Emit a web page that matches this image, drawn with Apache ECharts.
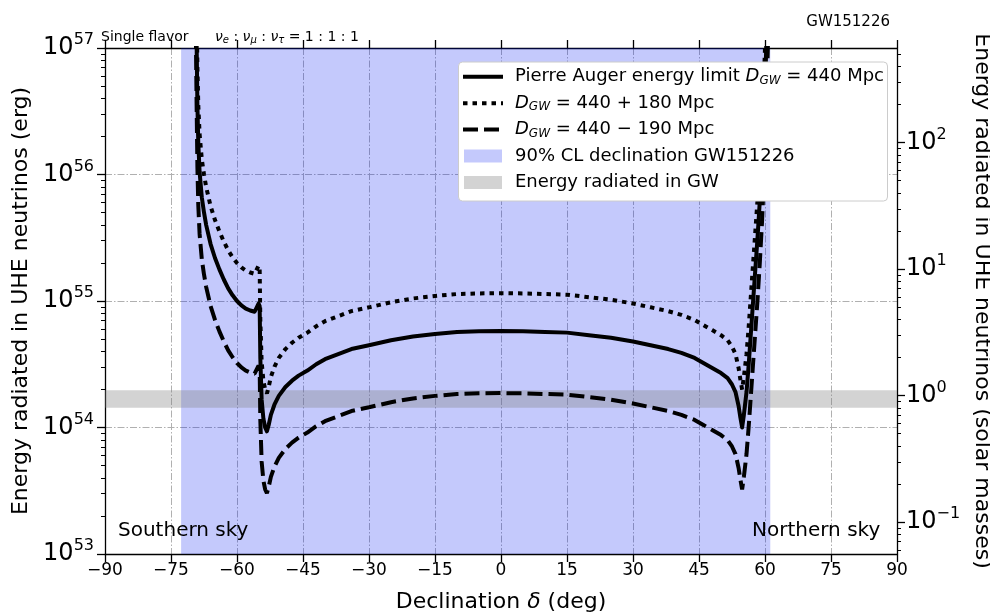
<!DOCTYPE html>
<html>
<head>
<meta charset="utf-8">
<script src="https://cdn.jsdelivr.net/npm/echarts@6/dist/echarts.min.js"></script>
<style>
  html, body { margin: 0; padding: 0; background: #ffffff; }
  #chart { width: 990px; height: 616px; }
</style>
</head>
<body>
<div id="chart"></div>
<script>
// Declination samples (deg); denser around the exposure edges and the dips.
const declination = [
  -69.35, -69.2, -69.0, -68.8, -68.5, -68.0, -67.5, -67.0, -66.0, -65.0,
  -64.0, -63.0, -62.0, -61.0, -60.0, -59.0, -58.0, -57.0, -56.0, -55.6,
  -55.1, -54.85, -54.7, -54.4, -54.0, -53.6, -53.2, -52.8, -52.3, -51.5,
  -50.5, -49.0, -47.5, -46.0, -44.0, -42.0, -40.0, -37.0, -34.0, -30.0,
  -25.0, -20.0, -15.0, -10.0, -5.0, 0.0, 5.0, 10.0, 15.0, 20.0,
  25.0, 30.0, 34.0, 38.0, 41.0, 44.0, 46.0, 48.0, 50.0, 51.5,
  52.5, 53.3, 54.0, 54.4, 54.8, 55.2, 55.8, 56.3, 56.8, 57.3,
  57.8, 58.3, 58.8, 59.3, 59.8, 60.2, 60.5, 60.8
];

// log10 of the energy limit in erg, Pierre Auger, D_GW = 440 Mpc
const augerLimit = [
  57.6, 57.1, 56.55, 56.25, 56.02, 55.82, 55.7, 55.6, 55.45, 55.34,
  55.25, 55.17, 55.1, 55.045, 55.0, 54.965, 54.94, 54.925, 54.915, 54.93,
  54.98, 54.96, 54.55, 54.22, 54.07, 54.0, 53.97, 54.02, 54.1, 54.18,
  54.25, 54.32, 54.37, 54.41, 54.45, 54.5, 54.54, 54.58, 54.62, 54.65,
  54.69, 54.72, 54.74, 54.755, 54.76, 54.762, 54.76, 54.755, 54.75, 54.73,
  54.71, 54.68, 54.65, 54.62, 54.59, 54.55, 54.51, 54.47, 54.43, 54.39,
  54.34, 54.28, 54.17, 54.08, 54.0, 54.1, 54.28, 54.5, 54.75, 55.0,
  55.25, 55.5, 55.78, 56.1, 56.5, 56.9, 57.3, 57.7
];

// D_GW = 440 + 180 Mpc
const augerLimitFar = [
  57.9, 57.4, 56.85, 56.55, 56.32, 56.12, 56.0, 55.9, 55.75, 55.64,
  55.55, 55.47, 55.4, 55.345, 55.3, 55.265, 55.24, 55.225, 55.215, 55.23,
  55.28, 55.26, 54.85, 54.52, 54.37, 54.3, 54.27, 54.32, 54.4, 54.48,
  54.55, 54.62, 54.67, 54.71, 54.75, 54.8, 54.84, 54.88, 54.92, 54.95,
  54.99, 55.02, 55.04, 55.055, 55.06, 55.062, 55.06, 55.055, 55.05, 55.03,
  55.01, 54.98, 54.95, 54.92, 54.89, 54.85, 54.81, 54.77, 54.73, 54.69,
  54.64, 54.58, 54.47, 54.38, 54.3, 54.4, 54.58, 54.8, 55.05, 55.3,
  55.55, 55.8, 56.08, 56.4, 56.8, 57.2, 57.6, 58.0
];

// D_GW = 440 - 190 Mpc
const augerLimitNear = [
  57.11, 56.61, 56.06, 55.76, 55.53, 55.33, 55.21, 55.11, 54.96, 54.85,
  54.76, 54.68, 54.61, 54.555, 54.51, 54.475, 54.45, 54.435, 54.425, 54.44,
  54.49, 54.47, 54.06, 53.73, 53.58, 53.51, 53.48, 53.53, 53.61, 53.69,
  53.76, 53.83, 53.88, 53.92, 53.96, 54.01, 54.05, 54.09, 54.13, 54.16,
  54.2, 54.23, 54.25, 54.265, 54.27, 54.272, 54.27, 54.265, 54.26, 54.24,
  54.22, 54.19, 54.16, 54.13, 54.1, 54.06, 54.02, 53.98, 53.94, 53.9,
  53.85, 53.79, 53.68, 53.59, 53.51, 53.61, 53.79, 54.01, 54.26, 54.51,
  54.76, 55.01, 55.29, 55.61, 56.01, 56.41, 56.81, 57.21
];

// 90% CL declination band of GW151226 (deg)
const clDeclinationRange = [-72.7, 61.2];
// Energy radiated in gravitational waves (solar masses)
const gwEnergyMsun = [0.8, 1.1];

// Axis ranges and ticks
const xRange = [-90, 90];
const xTickStep = 15;
const ergExponentRange = [53, 57];
const msunExponents = [-1, 0, 1, 2];
const LOG_MSUN_ERG = Math.log10(1.787e54);

const FONT = 'DejaVu Sans';

const toLog = (m) => LOG_MSUN_ERG + Math.log10(m);
const pairs = (ys) => declination.map((d, i) => [d, ys[i]]);
const minus = (v) => (v < 0 ? '\u2212' + (-v) : String(v));

// minor tick positions on the log axes (2..9 x each decade)
const leftMinor = [];
for (let n = ergExponentRange[0]; n < ergExponentRange[1]; n++) {
  for (let k = 2; k <= 9; k++) leftMinor.push(n + Math.log10(k));
}
const rightMajor = msunExponents.map((e) => LOG_MSUN_ERG + e);
const rightMinor = [];
for (let e = -2; e <= 2; e++) {
  for (let k = 2; k <= 9; k++) {
    const v = LOG_MSUN_ERG + e + Math.log10(k);
    if (v > ergExponentRange[0] && v < ergExponentRange[1]) rightMinor.push(v);
  }
}

const supRich = {
  b: { fontSize: 24, fontFamily: FONT, color: '#000' },
  s: { fontSize: 16, fontFamily: FONT, color: '#000', padding: [0, 0, 16, 0] }
};

const gridLine = { show: true, lineStyle: { color: '#b0b0b0', width: 1, type: [7, 2, 1.5, 2] } };
const spine = { color: '#000', width: 1.3 };

const chart = echarts.init(document.getElementById('chart'), null, { renderer: 'canvas' });

const legendTop = 62;
const legendRows = [76.7, 103.3, 129.5, 156, 182.5];
const legendTextX = 515;
const legRich = {
  n: { fontSize: 18, fontFamily: FONT, color: '#000' },
  i: { fontSize: 18, fontFamily: FONT, fontStyle: 'italic', color: '#000' },
  g: { fontSize: 12, fontFamily: FONT, fontStyle: 'italic', color: '#000', padding: [8, 0, 0, 0] }
};

const option = {
  backgroundColor: '#ffffff',
  animation: false,
  grid: { left: 105, right: 93, top: 48, bottom: 62, containLabel: false, outerBoundsMode: 'none' },
  xAxis: [
    {
      type: 'value', position: 'bottom',
      min: xRange[0], max: xRange[1], interval: xTickStep,
      axisLine: { show: true, onZero: false, lineStyle: spine },
      axisTick: { show: true, inside: false, length: 8, lineStyle: spine },
      axisLabel: { fontSize: 17, fontFamily: FONT, color: '#000', margin: 8, formatter: minus },
      splitLine: gridLine,
      name: '{n|Declination }{i|\u03b4}{n| (deg)}',
      nameLocation: 'middle', nameGap: 37,
      nameTextStyle: {
        rich: {
          n: { fontSize: 22, fontFamily: FONT, color: '#000' },
          i: { fontSize: 22, fontFamily: FONT, fontStyle: 'italic', color: '#000' }
        }
      }
    },
    {
      type: 'value', position: 'top',
      min: xRange[0], max: xRange[1], interval: xTickStep,
      axisLine: { show: true, onZero: false, lineStyle: spine },
      axisTick: { show: true, inside: false, length: 8, lineStyle: spine },
      axisLabel: { show: false },
      splitLine: { show: false }
    }
  ],
  yAxis: [
    {
      type: 'value', position: 'left',
      min: ergExponentRange[0], max: ergExponentRange[1], interval: 1,
      axisLine: { show: true, onZero: false, lineStyle: spine },
      axisTick: { show: true, inside: false, length: 8, lineStyle: spine },
      axisLabel: {
        margin: 11, formatter: (v) => '{b|10}{s|' + v + '}', rich: supRich
      },
      splitLine: gridLine,
      name: 'Energy radiated in UHE neutrinos (erg)',
      nameLocation: 'middle', nameRotate: 90, nameGap: 69,
      nameTextStyle: { fontSize: 22, fontFamily: FONT, color: '#000' }
    },
    {
      type: 'value', position: 'left',
      min: ergExponentRange[0], max: ergExponentRange[1],
      axisLine: { show: false, onZero: false },
      axisTick: { show: true, inside: false, length: 4, customValues: leftMinor, lineStyle: { color: '#000', width: 1 } },
      axisLabel: { show: false },
      splitLine: { show: false }
    },
    {
      type: 'value', position: 'right',
      min: ergExponentRange[0], max: ergExponentRange[1],
      axisLine: { show: true, onZero: false, lineStyle: spine },
      axisTick: { show: true, inside: false, length: 8, customValues: rightMajor, lineStyle: spine },
      axisLabel: {
        margin: 9, customValues: rightMajor,
        formatter: (v) => '{b|10}{s|' + minus(Math.round(v - LOG_MSUN_ERG)) + '}',
        rich: supRich
      },
      splitLine: { show: false },
      name: 'Energy radiated in UHE neutrinos (solar masses)',
      nameLocation: 'middle', nameRotate: -90, nameGap: 63,
      nameTextStyle: { fontSize: 22, fontFamily: FONT, color: '#000' }
    },
    {
      type: 'value', position: 'right',
      min: ergExponentRange[0], max: ergExponentRange[1],
      axisLine: { show: false, onZero: false },
      axisTick: { show: true, inside: false, length: 4, customValues: rightMinor, lineStyle: { color: '#000', width: 1 } },
      axisLabel: { show: false },
      splitLine: { show: false }
    }
  ],
  series: [
    {
      name: 'bands', type: 'line', data: [], z: 1, silent: true,
      markArea: {
        silent: true,
        label: { show: false },
        data: [
          [
            { xAxis: clDeclinationRange[0], itemStyle: { color: 'rgba(0,20,240,0.23)' } },
            { xAxis: clDeclinationRange[1] }
          ],
          [
            { yAxis: toLog(gwEnergyMsun[0]), itemStyle: { color: 'rgba(128,128,128,0.35)' } },
            { yAxis: toLog(gwEnergyMsun[1]) }
          ]
        ]
      }
    },
    {
      name: 'Pierre Auger energy limit', type: 'line', data: pairs(augerLimit),
      showSymbol: false, symbol: 'none', z: 4, clip: true, silent: true,
      lineStyle: { color: '#000', width: 4, join: 'round' }
    },
    {
      name: 'D_GW = 440 + 180 Mpc', type: 'line', data: pairs(augerLimitFar),
      showSymbol: false, symbol: 'none', z: 3, clip: true, silent: true,
      lineStyle: { color: '#000', width: 4, type: [4.5, 5] }
    },
    {
      name: 'D_GW = 440 - 190 Mpc', type: 'line', data: pairs(augerLimitNear),
      showSymbol: false, symbol: 'none', z: 3, clip: true, silent: true,
      lineStyle: { color: '#000', width: 4, type: [15, 6] }
    }
  ],
  graphic: [
    {
      type: 'text', x: 101, y: 37, z: 50,
      style: { text: 'Single flavor', fontSize: 14, fontFamily: FONT, fill: '#000', verticalAlign: 'middle' }
    },
    {
      type: 'text', x: 215, y: 37, z: 50,
      style: {
        text: '{i|\u03bd}{g|e}{n| : }{i|\u03bd}{g|\u03bc}{n| : }{i|\u03bd}{g|\u03c4}{n| = 1 : 1 : 1}',
        verticalAlign: 'middle',
        rich: {
          n: { fontSize: 14, fontFamily: FONT, color: '#000' },
          i: { fontSize: 14, fontFamily: FONT, fontStyle: 'italic', color: '#000' },
          g: { fontSize: 10, fontFamily: FONT, fontStyle: 'italic', color: '#000', padding: [6, 0, 0, 0] }
        }
      }
    },
    {
      type: 'text', x: 890, y: 22, z: 50,
      style: { text: 'GW151226', fontSize: 15, fontFamily: FONT, fill: '#000', align: 'right', verticalAlign: 'middle' }
    },
    {
      type: 'text', x: 118, y: 531, z: 50,
      style: { text: 'Southern sky', fontSize: 20, fontFamily: FONT, fill: '#000', verticalAlign: 'middle' }
    },
    {
      type: 'text', x: 752, y: 531, z: 50,
      style: { text: 'Northern sky', fontSize: 20, fontFamily: FONT, fill: '#000', verticalAlign: 'middle' }
    },
    {
      type: 'group', z: 100,
      children: [
        {
          type: 'rect', shape: { x: 458.5, y: legendTop, width: 429, height: 139, r: 4 },
          style: { fill: '#ffffff', stroke: '#cccccc', lineWidth: 1 }, z: 100
        },
        {
          type: 'line', shape: { x1: 463, y1: legendRows[0], x2: 503, y2: legendRows[0] },
          style: { stroke: '#000', lineWidth: 4 }, z: 101
        },
        {
          type: 'line', shape: { x1: 463, y1: legendRows[1], x2: 503, y2: legendRows[1] },
          style: { stroke: '#000', lineWidth: 4, lineDash: [4.5, 5] }, z: 101
        },
        {
          type: 'line', shape: { x1: 463, y1: legendRows[2], x2: 503, y2: legendRows[2] },
          style: { stroke: '#000', lineWidth: 4, lineDash: [15, 6] }, z: 101
        },
        {
          type: 'rect', shape: { x: 464, y: legendRows[3] - 6.5, width: 38, height: 13 },
          style: { fill: 'rgba(0,20,240,0.23)' }, z: 101
        },
        {
          type: 'rect', shape: { x: 464, y: legendRows[4] - 6.5, width: 38, height: 13 },
          style: { fill: 'rgba(128,128,128,0.35)' }, z: 101
        },
        {
          type: 'text', x: legendTextX, y: legendRows[0], z: 101,
          style: { text: '{n|Pierre Auger energy limit }{i|D}{g|GW}{n| = 440 Mpc}', rich: legRich, verticalAlign: 'middle' }
        },
        {
          type: 'text', x: legendTextX, y: legendRows[1], z: 101,
          style: { text: '{i|D}{g|GW}{n| = 440 + 180 Mpc}', rich: legRich, verticalAlign: 'middle' }
        },
        {
          type: 'text', x: legendTextX, y: legendRows[2], z: 101,
          style: { text: '{i|D}{g|GW}{n| = 440 \u2212 190 Mpc}', rich: legRich, verticalAlign: 'middle' }
        },
        {
          type: 'text', x: legendTextX, y: legendRows[3], z: 101,
          style: { text: '90% CL declination GW151226', fontSize: 18, fontFamily: FONT, fill: '#000', verticalAlign: 'middle' }
        },
        {
          type: 'text', x: legendTextX, y: legendRows[4], z: 101,
          style: { text: 'Energy radiated in GW', fontSize: 18, fontFamily: FONT, fill: '#000', verticalAlign: 'middle' }
        }
      ]
    }
  ]
};

chart.setOption(option);
</script>
</body>
</html>
